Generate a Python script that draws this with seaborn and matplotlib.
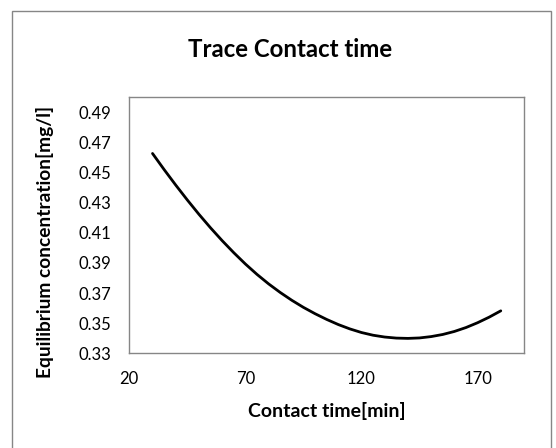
import matplotlib
matplotlib.use("Agg")
import matplotlib.pyplot as plt
import seaborn as sns
import pandas as pd
from matplotlib.patches import Rectangle

# Data (every 5 min)
contact_time = [30, 35, 40, 45, 50, 55, 60, 65, 70, 75, 80, 85, 90, 95, 100, 105,
                110, 115, 120, 125, 130, 135, 140, 145, 150, 155, 160, 165, 170, 175, 180]
concentration = [0.4627, 0.4520, 0.4417, 0.4318, 0.4223, 0.4133, 0.4048, 0.3968,
                 0.3893, 0.3824, 0.3761, 0.3704, 0.3652, 0.3605, 0.3563, 0.3525,
                 0.3491, 0.3462, 0.3438, 0.3420, 0.3408, 0.3401, 0.3399, 0.3402,
                 0.3411, 0.3425, 0.3445, 0.3471, 0.3503, 0.3540, 0.3582]
x_ticks = [20, 70, 120, 170]
y_ticks = [0.33, 0.35, 0.37, 0.39, 0.41, 0.43, 0.45, 0.47, 0.49]

title = "Trace Contact time"
x_label = "Contact time[min]"
y_label = "Equilibrium concentration[mg/l]"

df = pd.DataFrame({"t": contact_time, "c": concentration})

sns.set_theme(style="white")
plt.rcParams["font.family"] = ["Lato", "DejaVu Sans"]

W, H = 556, 448
fig = plt.figure(figsize=(W / 100, H / 100), dpi=100)
fig.patch.set_facecolor("white")

# outer chart border
fig.add_artist(Rectangle((11.7 / W, -0.2), (551.4 - 11.7) / W, 1.2 - 11 / H,
                         transform=fig.transFigure, fill=False,
                         edgecolor="#868686", linewidth=1.0))

left, right = 129.3 / W, 524 / W
top, bottom = 1 - 97.3 / H, 1 - 353.3 / H
ax = fig.add_axes([left, bottom, right - left, top - bottom])

sns.lineplot(data=df, x="t", y="c", ax=ax, color="black", linewidth=2.0)

ax.set_xlim(20, 190)
ax.set_ylim(0.33, 0.50)
ax.set_xticks(x_ticks)
ax.set_xticklabels([str(v) for v in x_ticks])
ax.set_yticks(y_ticks)
ax.set_yticklabels([f"{v:.2f}" for v in y_ticks])
ax.set_xlabel("")
ax.set_ylabel("")

for s in ax.spines.values():
    s.set_visible(True)
    s.set_color("#868686")
    s.set_linewidth(1.0)

ax.tick_params(axis="both", direction="inout", length=8, width=1.0,
               color="#868686", labelsize=12, labelcolor="black")
ax.tick_params(axis="y", pad=9)
ax.tick_params(axis="x", pad=9)

fig.text(290 / W, 1 - 49.5 / H, title, ha="center", va="center",
         fontsize=17.3, fontweight="bold", color="black")
fig.text(327 / W, 1 - 411 / H, x_label, ha="center", va="center",
         fontsize=14, fontweight="bold", color="black")
fig.text(45 / W, 1 - 241.7 / H, y_label, ha="center", va="center",
         rotation=90, fontsize=13.8, fontweight="bold", color="black")

fig.savefig("out.png", dpi=100, facecolor="white")
